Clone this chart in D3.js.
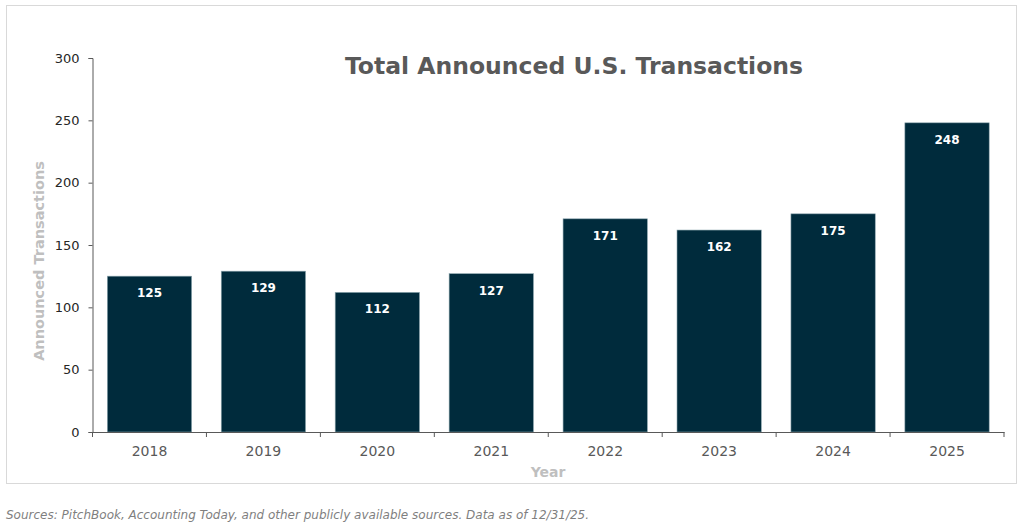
<!DOCTYPE html>
<html><head><meta charset="utf-8">
<script src="https://cdn.jsdelivr.net/npm/d3@7"></script>
<style>body{margin:0;background:#fff}svg{display:block}</style>
</head><body>
<svg id="c" width="1024" height="528"></svg>
<script>
const years = ["2018","2019","2020","2021","2022","2023","2024","2025"];
const transactions = [125,129,112,127,171,162,175,248];
const yTicks = [0,50,100,150,200,250,300];
const titleText = "Total Announced U.S. Transactions";
const yTitle = "Announced Transactions";
const xTitle = "Year";
const sourceText = "Sources: PitchBook, Accounting Today, and other publicly available sources. Data as of 12/31/25.";

const svg = d3.select("#c");
const F = "'DejaVu Sans', Verdana, sans-serif";
const m = {l:92.5, r:1004, t:58, b:432};

svg.append("rect").attr("x",6.5).attr("y",5.5).attr("width",1010).attr("height",478)
  .attr("fill","none").attr("stroke","#d9d9d9").attr("stroke-width",1);

const x = d3.scaleBand().domain(years).range([m.l, m.r]).paddingInner(0.26).paddingOuter(0.13);
const y = d3.scaleLinear().domain([0,300]).range([m.b, m.t]);

// bars
svg.append("g").selectAll("rect").data(years).join("rect")
  .attr("x", d=>x(d)).attr("width", x.bandwidth())
  .attr("y", (d,i)=>y(transactions[i])).attr("height",(d,i)=>y(0)-y(transactions[i]))
  .attr("fill","#002b3c").attr("stroke","#8ea7b0").attr("stroke-width",0.6);

svg.append("g").selectAll("text").data(years).join("text")
  .attr("x", d=>x(d)+x.bandwidth()/2).attr("y",(d,i)=>y(transactions[i])+21)
  .attr("text-anchor","middle").attr("font-family",F).attr("font-weight","bold")
  .attr("font-size",12).attr("fill","#ffffff").text((d,i)=>transactions[i]);

// y axis
const ya = svg.append("g").attr("transform",`translate(${m.l},0)`)
  .call(d3.axisLeft(y).tickValues(yTicks).tickSize(4).tickPadding(9));
ya.select(".domain").attr("stroke","#595959");
ya.selectAll(".tick line").attr("stroke","#595959");
ya.selectAll(".tick text").attr("font-family",F).attr("font-size",13).attr("fill","#262626");

// x axis
const xa = svg.append("g").attr("transform",`translate(0,${m.b})`)
  .call(d3.axisBottom(x).tickSize(0).tickSizeOuter(0).tickPadding(14));
xa.select(".domain").attr("stroke","#595959");
xa.selectAll(".tick text").attr("font-family",F).attr("font-size",14).attr("fill","#595959");
const step = x.step();
const bounds = d3.range(years.length+1).map(i=>m.l + i*step);
xa.selectAll(".bt").data(bounds).join("line").attr("class","bt")
  .attr("x1",d=>d).attr("x2",d=>d).attr("y1",0).attr("y2",5).attr("stroke","#595959");

// titles
svg.append("text").attr("x",574).attr("y",74).attr("text-anchor","middle")
  .attr("font-family",F).attr("font-weight","bold").attr("font-size",23.5).attr("fill","#595959").text(titleText);
svg.append("text").attr("transform","translate(44,261) rotate(-90)").attr("text-anchor","middle")
  .attr("font-family",F).attr("font-weight","bold").attr("font-size",14.5).attr("fill","#bfbfbf").text(yTitle);
svg.append("text").attr("x",548).attr("y",477).attr("text-anchor","middle")
  .attr("font-family",F).attr("font-weight","bold").attr("font-size",14).attr("fill","#bfbfbf").text(xTitle);
svg.append("text").attr("x",6).attr("y",519)
  .attr("font-family",F).attr("font-style","italic").attr("font-size",12).attr("fill","#7f7f7f").text(sourceText);
</script>
</body></html>
